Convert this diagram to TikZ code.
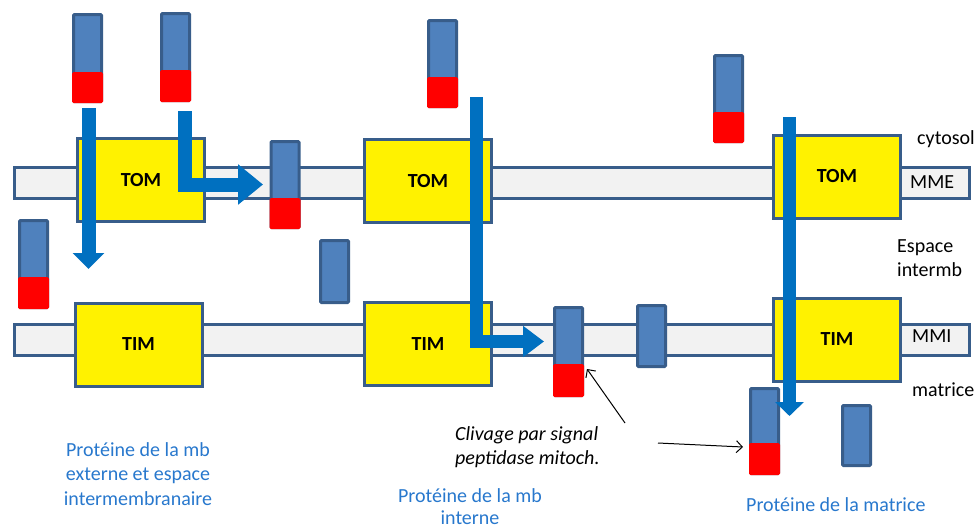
\documentclass[tikz,border=0pt]{standalone}
\usepackage{fontspec}
\setmainfont{Carlito}
\usetikzlibrary{arrows.meta}
\definecolor{bord}{RGB}{56,93,138}
\definecolor{pblue}{RGB}{79,129,189}
\definecolor{memb}{RGB}{242,242,242}
\definecolor{arrblue}{RGB}{0,112,192}
\definecolor{labblue}{RGB}{40,120,205}
\definecolor{redpart}{RGB}{255,0,0}
\tikzset{
  membrane/.style={draw=bord, fill=memb, line width=3pt, minimum width=955pt, minimum height=31pt, inner sep=0pt},
  complex/.style={draw=bord, fill=yellow, line width=3pt, minimum width=127pt, minimum height=83pt, inner sep=0pt, font=\fontsize{20}{24}\selectfont\bfseries},
  prot/.style={draw=bord, fill=pblue, line width=3pt, minimum width=28pt, inner sep=0pt, rounded corners=1pt},
  redtip/.style={fill=redpart, rounded corners=1.5pt},
  bigarrow/.style={draw=arrblue, line width=14pt, line join=miter},
  thinarrow/.style={draw=black, line width=1pt, -{Straight Barb[length=6pt,width=12pt]}},
  lab/.style={font=\fontsize{20}{24}\selectfont, inner sep=0pt},
  bluelab/.style={lab, text=labblue, anchor=base},
}
\begin{document}
\begin{tikzpicture}[x=1pt,y=-1pt]
\useasboundingbox (0,0) rectangle (978,531);
% membranes
\node[membrane] (mme) at (492,183) {};
\node[membrane] (mmi) at (492,340) {};
% complexes
\node[complex] (tom1) at (141,180) {TOM};
\node[complex] (tom2) at (428,181) {TOM};
\node[complex] (tom3) at (837,176.5) {TOM};
\node[complex] (tim1) at (138.5,344.5) {TIM};
\node[complex] (tim2) at (428,344) {TIM};
\node[complex] (tim3) at (837,339.5) {TIM};
% proteins
\node[prot, minimum height=87pt] (p1) at (87.5,58) {};
\fill[redtip] (p1.south west) rectangle ([yshift=31pt]p1.south east);
\node[prot, minimum height=87pt] (p2) at (175.5,57) {};
\fill[redtip] (p2.south west) rectangle ([yshift=32pt]p2.south east);
\node[prot, minimum height=86pt] (p3) at (285,184.5) {};
\fill[redtip] (p3.south west) rectangle ([yshift=31pt]p3.south east);
\node[prot, minimum height=87pt] (p4) at (33.5,264) {};
\fill[redtip] (p4.south west) rectangle ([yshift=32pt]p4.south east);
\node[prot, minimum height=62pt] (p5) at (334.5,271.5) {};
\node[prot, minimum height=86pt] (p6) at (442.5,63.5) {};
\fill[redtip] (p6.south west) rectangle ([yshift=31pt]p6.south east);
\node[prot, minimum height=88pt] (p7) at (568.5,351.5) {};
\fill[redtip] (p7.south west) rectangle ([yshift=33pt]p7.south east);
\node[prot, minimum height=61pt] (p8) at (651.5,336) {};
\node[prot, minimum height=86pt] (p9) at (728.5,98.5) {};
\fill[redtip] (p9.south west) rectangle ([yshift=31pt]p9.south east);
\node[prot, minimum height=85pt] (p10) at (764.5,431) {};
\fill[redtip] (p10.south west) rectangle ([yshift=32pt]p10.south east);
\node[prot, minimum height=60pt] (p11) at (856.5,435.5) {};
% big blue arrows
\coordinate (a1s) at (88.5,108);
\coordinate (a1e) at (88.5,269);
\coordinate (a2s) at (185,111);
\coordinate (a2e) at (263,184.5);
\coordinate (a3s) at (476.5,97);
\coordinate (a3e) at (544,341.5);
\coordinate (a4s) at (789.5,117);
\coordinate (a4e) at (789.5,416);
\draw[bigarrow, -{Triangle[width=31pt,length=16pt]}] (a1s) -- (a1e);
\draw[bigarrow, -{Triangle[width=39pt,length=25pt]}] (a2s) |- (a2e);
\draw[bigarrow, line width=13pt, -{Triangle[width=30pt,length=21pt]}] (a3s) |- (a3e);
\draw[bigarrow, line width=13pt, -{Triangle[width=28pt,length=14pt]}] (a4s) -- (a4e);
% side labels
\node[lab, anchor=base west] (cyto) at (917,144) {cytosol};
\node[lab, anchor=base west] (mmel) at (910,188) {MME};
\node[lab, anchor=base west] (esp1) at (897,252) {Espace};
\node[lab, anchor=base west] (esp2) at (897,276) {intermb};
\node[lab, anchor=base west] (mmil) at (912,342) {MMI};
\node[lab, anchor=base west] (matl) at (912,396) {matrice};
% cleavage note
\node[lab, anchor=base west, font=\fontsize{20}{24}\selectfont\itshape] (cliv1) at (455,440) {Clivage par signal};
\node[lab, anchor=base west, font=\fontsize{20}{24}\selectfont\itshape] (cliv2) at (455,464) {peptidase mitoch.};
\coordinate (c1s) at (625,423);
\coordinate (c1e) at (587,369);
\coordinate (c2s) at (658,443);
\coordinate (c2e) at (743,447);
\draw[thinarrow] (c1s) -- (c1e);
\draw[thinarrow] (c2s) -- (c2e);
% blue captions
\node[bluelab] (l1a) at (138,456) {Protéine de la mb};
\node[bluelab] (l1b) at (138,480) {externe et espace};
\node[bluelab] (l1c) at (138,505) {intermembranaire};
\node[bluelab] (l2a) at (470,502) {Protéine de la mb};
\node[bluelab] (l2b) at (470,524) {interne};
\node[bluelab, anchor=base west] (l3) at (746,511) {Protéine de la matrice};
\end{tikzpicture}
\end{document}
